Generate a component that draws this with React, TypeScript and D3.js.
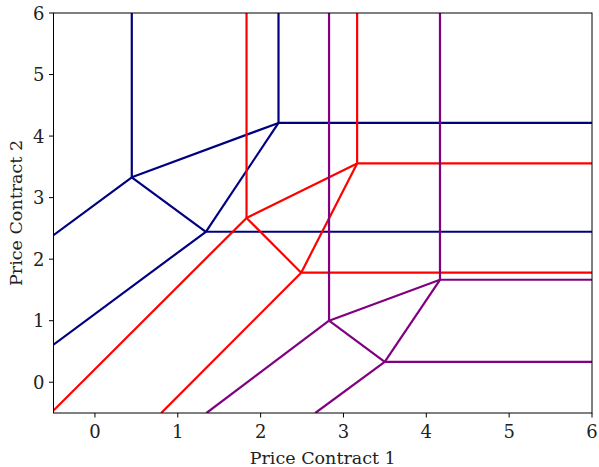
import React from 'react'
import * as d3 from 'd3'

// vertices of each price region diagram (Price Contract 1, Price Contract 2)
const blueNodes: [number, number][] = [[0.445, 3.33], [2.216, 4.214], [1.339, 2.445]]
const redNodes: [number, number][] = [[1.83, 2.67], [3.165, 3.556], [2.49, 1.78]]
const purpleNodes: [number, number][] = [[2.826, 1.0], [4.165, 1.665], [3.498, 0.33]]

// outer endpoints (rays leaving the plot)
const blueEnds: [number, number][] = [[0.445, 6], [2.216, 6], [6, 4.214], [6, 2.445], [-0.5, 2.39], [-0.5, 0.61]]
const redEnds: [number, number][] = [[1.83, 6], [3.165, 6], [6, 3.556], [6, 1.78], [-0.5, -0.46], [0.8, -0.5]]
const purpleEnds: [number, number][] = [[2.826, 6], [4.165, 6], [6, 1.665], [6, 0.33], [1.347, -0.5], [2.66, -0.5]]

// inner edges between nodes, then node -> end
const innerEdges: [number, number][] = [[0, 1], [0, 2], [2, 1]]
const outerEdges: [number, number][] = [[0, 0], [1, 1], [1, 2], [2, 3], [0, 4], [2, 5]]

const xTicks = [0, 1, 2, 3, 4, 5, 6]
const yTicks = [0, 1, 2, 3, 4, 5, 6]

const series = [
  { nodes: blueNodes, ends: blueEnds, color: '#000080' },
  { nodes: redNodes, ends: redEnds, color: '#ff0000' },
  { nodes: purpleNodes, ends: purpleEnds, color: '#800080' },
]

export default function App() {
  const width = 599
  const height = 467
  const m = { left: 53.5, right: 7, top: 13, bottom: 54 }
  const x = d3.scaleLinear().domain([-0.5, 6]).range([m.left, width - m.right])
  const y = d3.scaleLinear().domain([-0.5, 6]).range([height - m.bottom, m.top])
  const line = d3.line<[number, number]>().x(d => x(d[0])).y(d => y(d[1]))
  const font = 'DejaVu Serif'

  return (
    <svg width={width} height={height} style={{ position: 'absolute', left: 0, top: 0, background: '#fff' }}>
      <defs>
        <clipPath id="plot">
          <rect x={x(-0.5)} y={y(6)} width={x(6) - x(-0.5)} height={y(-0.5) - y(6)} />
        </clipPath>
      </defs>
      <g clipPath="url(#plot)" fill="none" strokeWidth={2.2}>
        {series.map((s, i) => (
          <g key={i} stroke={s.color}>
            {innerEdges.map(([a, b], j) => (
              <path key={'i' + j} d={line([s.nodes[a], s.nodes[b]]) || ''} />
            ))}
            {outerEdges.map(([a, b], j) => (
              <path key={'o' + j} d={line([s.nodes[a], s.ends[b]]) || ''} />
            ))}
          </g>
        ))}
      </g>
      <rect x={x(-0.5)} y={y(6)} width={x(6) - x(-0.5)} height={y(-0.5) - y(6)} fill="none" stroke="#000" strokeWidth={1} />
      {xTicks.map(t => (
        <g key={t} transform={`translate(${x(t)},${y(-0.5)})`}>
          <line y2={4.5} stroke="#000" strokeWidth={1} />
          <text y={20} textAnchor="middle" fontFamily={font} fontSize={18} dominantBaseline="middle" fill="#222">{t}</text>
        </g>
      ))}
      {yTicks.map(t => (
        <g key={t} transform={`translate(${x(-0.5)},${y(t)})`}>
          <line x2={-4.5} stroke="#000" strokeWidth={1} />
          <text x={-9} textAnchor="end" fontFamily={font} fontSize={18} dominantBaseline="central" fill="#222">{t}</text>
        </g>
      ))}
      <text x={(x(-0.5) + x(6)) / 2} y={464} textAnchor="middle" fontFamily={font} fontSize={17.5} fill="#222">Price Contract 1</text>
      <text transform={`translate(22,${(y(-0.5) + y(6)) / 2}) rotate(-90)`} textAnchor="middle" fontFamily={font} fontSize={17.5} fill="#222">Price Contract 2</text>
    </svg>
  )
}
